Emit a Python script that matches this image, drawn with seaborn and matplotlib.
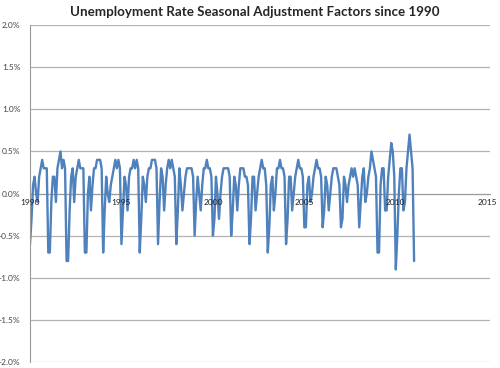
import matplotlib.pyplot as plt
import numpy as np
import pandas as pd
import seaborn as sns
from matplotlib.ticker import FuncFormatter, MultipleLocator

# monthly seasonal adjustment factors (percentage points), Jan 1990 .. Jan 2011
factors_by_year = {
    1990: [-0.6, -0.3, 0.1, 0.2, 0.0, -0.1, 0.2, 0.3, 0.4, 0.3, 0.3, 0.3],
    1991: [-0.7, -0.7, -0.1, 0.2, 0.2, -0.1, 0.3, 0.4, 0.5, 0.3, 0.4, 0.3],
    1992: [-0.8, -0.8, -0.2, 0.2, 0.3, -0.1, 0.2, 0.3, 0.4, 0.3, 0.3, 0.3],
    1993: [-0.7, -0.7, 0.0, 0.2, -0.2, 0.1, 0.3, 0.3, 0.4, 0.4, 0.4, 0.3],
    1994: [-0.7, -0.2, 0.2, 0.0, -0.1, 0.1, 0.2, 0.3, 0.4, 0.3, 0.4, 0.3],
    1995: [-0.6, -0.2, 0.2, 0.1, -0.2, 0.2, 0.3, 0.3, 0.4, 0.3, 0.4, 0.3],
    1996: [-0.7, -0.3, 0.2, 0.1, -0.1, 0.2, 0.3, 0.3, 0.4, 0.4, 0.4, 0.3],
    1997: [-0.6, -0.1, 0.3, 0.2, -0.2, 0.1, 0.3, 0.4, 0.3, 0.4, 0.3, 0.2],
    1998: [-0.6, -0.2, 0.3, 0.1, -0.2, 0.0, 0.2, 0.3, 0.3, 0.3, 0.3, 0.2],
    1999: [-0.5, -0.1, 0.2, 0.0, -0.2, 0.1, 0.3, 0.3, 0.4, 0.3, 0.3, 0.2],
    2000: [-0.5, -0.3, 0.2, 0.0, -0.3, 0.0, 0.2, 0.3, 0.3, 0.3, 0.3, 0.2],
    2001: [-0.5, -0.2, 0.2, 0.1, -0.2, 0.1, 0.3, 0.3, 0.3, 0.2, 0.2, 0.1],
    2002: [-0.6, -0.3, 0.2, 0.2, -0.2, 0.0, 0.2, 0.3, 0.4, 0.3, 0.3, 0.1],
    2003: [-0.7, -0.4, 0.1, 0.2, -0.2, 0.0, 0.3, 0.3, 0.4, 0.3, 0.3, 0.2],
    2004: [-0.6, -0.3, 0.2, 0.2, -0.2, 0.0, 0.2, 0.3, 0.4, 0.3, 0.3, 0.2],
    2005: [-0.4, -0.4, 0.1, 0.2, -0.1, 0.0, 0.2, 0.3, 0.4, 0.3, 0.3, 0.2],
    2006: [-0.4, -0.2, 0.2, 0.1, -0.2, 0.0, 0.2, 0.3, 0.3, 0.3, 0.2, 0.1],
    2007: [-0.4, -0.3, 0.2, 0.1, -0.1, 0.1, 0.2, 0.3, 0.2, 0.3, 0.2, 0.1],
    2008: [-0.4, -0.1, 0.2, 0.3, -0.1, 0.0, 0.2, 0.3, 0.5, 0.4, 0.3, 0.2],
    2009: [-0.7, -0.7, 0.1, 0.3, 0.3, -0.2, -0.2, 0.2, 0.4, 0.6, 0.5, 0.2],
    2010: [-0.9, -0.5, 0.0, 0.3, 0.3, -0.2, -0.1, 0.3, 0.5, 0.7, 0.5, 0.3],
    2011: [-0.8],
}
year_ticks = [1990, 1995, 2000, 2005, 2010, 2015]

values = [v for year in sorted(factors_by_year) for v in factors_by_year[year]]
dates = pd.date_range('1990-01-01', periods=len(values), freq='MS')
df = pd.DataFrame({'year': dates.year + (dates.month - 1) / 12, 'factor': values})

sns.set_style('white')
plt.rcParams['font.family'] = ['Lato', 'DejaVu Sans']

fig = plt.figure(figsize=(5, 3.68), dpi=100)
ax = fig.add_axes([0.06, 0.016, 0.92, 0.916])

sns.lineplot(data=df, x='year', y='factor', color='#4F81BD', lw=1.7, ax=ax)

ax.set_xlim(1990, 2015.15)
ax.set_ylim(-2.0, 2.0)
ax.yaxis.set_major_locator(MultipleLocator(0.5))
ax.yaxis.set_major_formatter(FuncFormatter(lambda v, _: f'{v:.1f}%'))
ax.set_xticks(year_ticks)
ax.set_xticklabels([str(y) for y in year_ticks])
ax.grid(axis='y', color='#b3b3b3', lw=0.9)
ax.set_axisbelow(True)
# year labels sit on top of the line, as in the spreadsheet original
ax.xaxis.set_zorder(3)

for side in ('top', 'right'):
    ax.spines[side].set_visible(False)
ax.spines['left'].set_color('#9a9a9a')
ax.spines['bottom'].set_position(('data', 0))
ax.spines['bottom'].set_color('#9a9a9a')
ax.spines['bottom'].set_zorder(1)
ax.tick_params(axis='y', length=3, color='#9a9a9a', labelsize=6, labelcolor='#444444', pad=4)
ax.tick_params(axis='x', length=3, color='#9a9a9a', labelsize=6, labelcolor='#222222', pad=1)
ax.set_xlabel('')
ax.set_ylabel('')

fig.suptitle('Unemployment Rate Seasonal Adjustment Factors since 1990',
             x=0.51, y=0.985, fontsize=9.6, fontweight='bold')
fig.savefig('out.png')
